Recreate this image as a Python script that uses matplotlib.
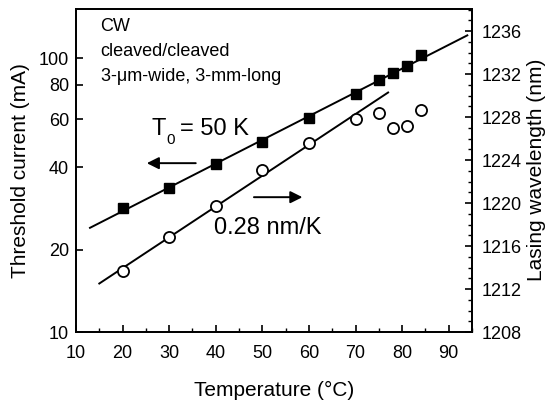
import numpy as np
import matplotlib
matplotlib.use("Agg")
import matplotlib.pyplot as plt
from matplotlib.ticker import FixedLocator, MultipleLocator, NullLocator, FixedFormatter

plt.rcParams['font.family'] = ['Liberation Sans', 'DejaVu Sans']

# threshold current vs temperature (left axis, log)
temp_ith = [20, 30, 40, 50, 60, 70, 75, 78, 81, 84]
ith = [28.4, 33.6, 41.0, 49.5, 60.3, 73.9, 83.2, 88.2, 93.5, 102.5]

# lasing wavelength vs temperature (right axis)
temp_wl = [20, 30, 40, 50, 60, 70, 75, 78, 81, 84]
wavelength = [1213.7, 1216.8, 1219.7, 1223.1, 1225.6, 1227.8, 1228.4, 1227.0, 1227.2, 1228.7]
n_wl_fit = 6  # only 20-70 C used for the linear fit

left_ticks = [10, 20, 40, 60, 80, 100]
right_ticks = [1208, 1212, 1216, 1220, 1224, 1228, 1232, 1236]
x_ticks = [10, 20, 30, 40, 50, 60, 70, 80, 90]

fig = plt.figure(figsize=(5.52, 4.05), dpi=100)
ax = fig.add_axes([0.1377, 0.180, 0.7173, 0.799])
ax2 = ax.twinx()

# fits
p_i = np.polyfit(temp_ith, np.log10(ith), 1)
t_i = np.array([13, 94])
ax.plot(t_i, 10 ** np.polyval(p_i, t_i), color='black', lw=1.4, zorder=2)
ax.plot(temp_ith, ith, 's', color='black', ms=7.5, zorder=3)

p_w = np.polyfit(temp_wl[:n_wl_fit], wavelength[:n_wl_fit], 1)
t_w = np.array([15, 77])
ax2.plot(t_w, np.polyval(p_w, t_w), color='black', lw=1.4, zorder=2)
ax2.plot(temp_wl, wavelength, 'o', mfc='white', mec='black', mew=1.3, ms=8, zorder=3)

ax.set_xlim(10, 95)
ax.set_yscale('log')
ax.set_ylim(10, 152)
ax2.set_ylim(1208, 1238.1)

ax.xaxis.set_major_locator(FixedLocator(x_ticks))
ax.xaxis.set_minor_locator(MultipleLocator(5))
ax.yaxis.set_major_locator(FixedLocator(left_ticks))
ax.yaxis.set_major_formatter(FixedFormatter([str(v) for v in left_ticks]))
ax.yaxis.set_minor_locator(NullLocator())
ax2.yaxis.set_major_locator(FixedLocator(right_ticks))
ax2.yaxis.set_minor_locator(MultipleLocator(1))

for a in (ax, ax2):
    a.tick_params(which='major', direction='in', length=5, width=1.2, labelsize=13, pad=5)
    a.tick_params(which='minor', direction='in', length=3, width=1.0)
    for s in a.spines.values():
        s.set_linewidth(1.3)
ax.tick_params(axis='y', which='both', right=False)
ax.tick_params(axis='x', which='major', pad=9)
ax2.tick_params(axis='y', which='major', pad=7)

ax.set_xlabel('Temperature (°C)', fontsize=15, labelpad=14)
ax.set_ylabel('Threshold current (mA)', fontsize=15, labelpad=6)
ax2.set_ylabel('Lasing wavelength (nm)', fontsize=15, labelpad=4)

ax.text(0.062, 0.945, 'CW', transform=ax.transAxes, fontsize=13, va='center')
ax.text(0.062, 0.868, 'cleaved/cleaved', transform=ax.transAxes, fontsize=13, va='center')
ax.text(0.062, 0.791, '3-μm-wide, 3-mm-long', transform=ax.transAxes, fontsize=13, va='center')

# T0 = 50 K, with a low-set subscript
t0_pos = (26.3, 52.5)
ax.annotate('T', xy=t0_pos, fontsize=17, va='baseline')
ax.annotate('0', xy=t0_pos, xytext=(10.2, -6.5), textcoords='offset points',
            fontsize=11, va='baseline')
ax.annotate('= 50 K', xy=t0_pos, xytext=(20.5, 0), textcoords='offset points',
            fontsize=17, va='baseline')
ax.text(39.6, 23.9, '0.28 nm/K', fontsize=17, va='center')

arrow = dict(arrowstyle='-|>', color='black', lw=1.4, mutation_scale=18)
ax.annotate('', xy=(24.6, 41.4), xytext=(36.3, 41.4), arrowprops=arrow)
ax.annotate('', xy=(59.2, 31.1), xytext=(47.6, 31.1), arrowprops=arrow)

fig.savefig('out.png', dpi=100)
